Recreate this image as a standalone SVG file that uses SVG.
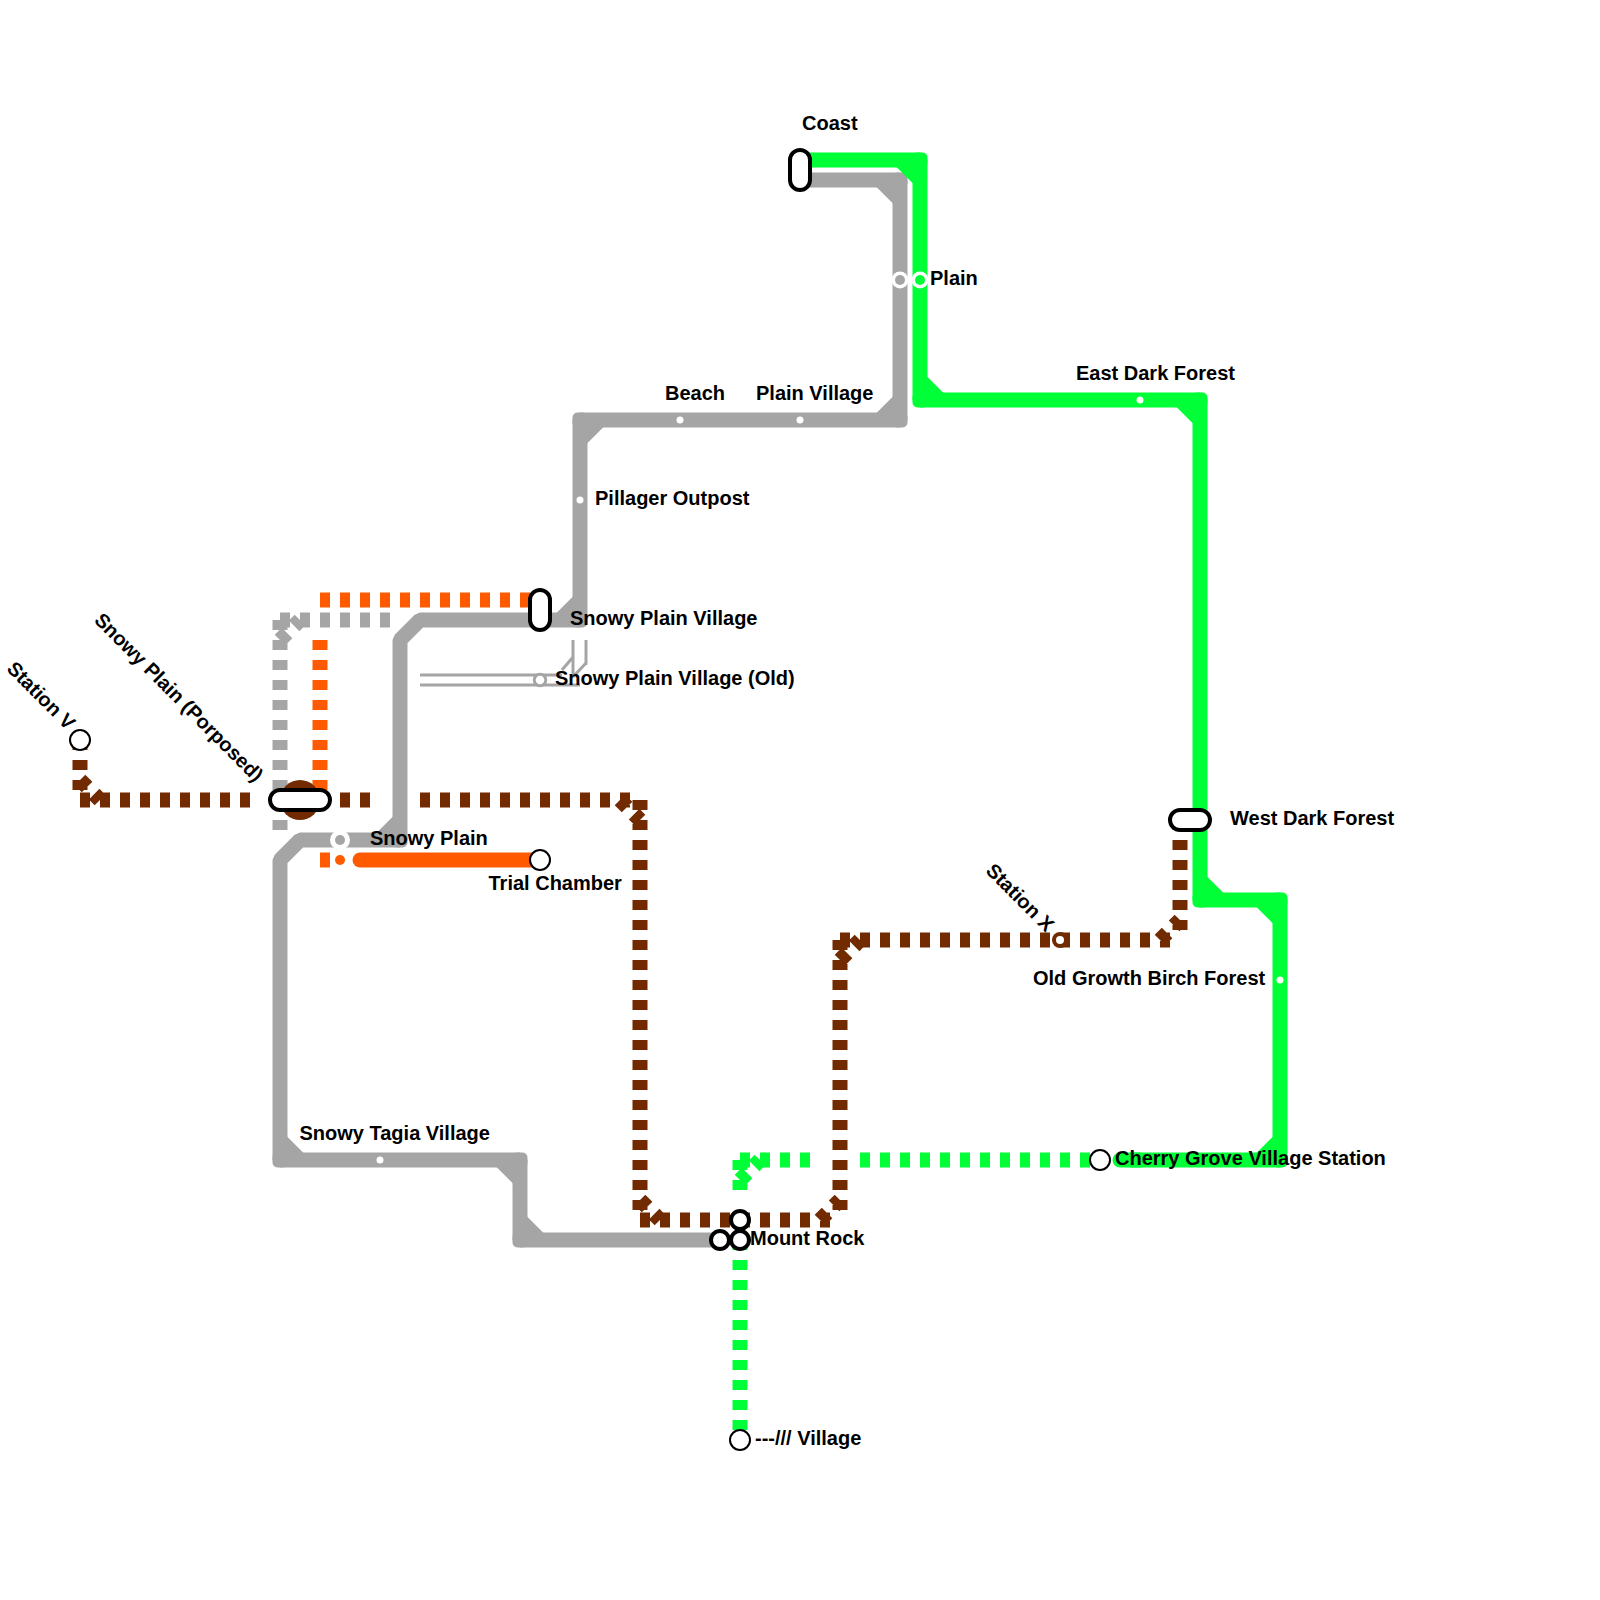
<svg xmlns="http://www.w3.org/2000/svg" width="1600" height="1600" viewBox="0 0 1600 1600">
<style>
text{font-family:"Liberation Sans",Arial,sans-serif;font-size:20px;font-weight:bold;fill:#000}
.s,.d{fill:none;stroke-width:15;stroke-linejoin:bevel}
.d{stroke-dasharray:10 10;stroke-linejoin:miter}
.g{stroke:#a5a5a5}.n{stroke:#00ff37}.o{stroke:#ff5a00}.b{stroke:#722b00}
.t{fill:none;stroke:#a5a5a5;stroke-width:3}
.p{fill:#fff;stroke:#000;stroke-width:4}
.c{fill:#fff;stroke:#000;stroke-width:2}
.m{fill:#fff;stroke:#000;stroke-width:4}
.w{fill:#fff}
.cg{fill:#a5a5a5}.cn{fill:#00ff37}
</style>
<defs><rect id="k" x="-7.5" y="-7.5" width="15" height="15" rx="5"/></defs>
<rect width="1600" height="1600" fill="#fff"/>
<g id="connectors">
<path class="t" d="M420 675H562M420 685H580M573 640V677M586 640V665M573 657L562 670M586 663L573 677"/>
<path class="s g" d="M800 180H900V420H580V620H420L400 640V840H300L280 860V1160H520V1240H720"/>
<path class="s g" d="M880 180L900 200M900 400L880 420M580 440L600 420M560 620L580 600M380 840L400 820M280 1140L300 1160M500 1160L520 1180M520 1220L540 1240"/>
<g class="cg"><use href="#k" x="900" y="180"/><use href="#k" x="900" y="420"/><use href="#k" x="580" y="420"/><use href="#k" x="580" y="620"/><use href="#k" x="400" y="840"/><use href="#k" x="280" y="1160"/><use href="#k" x="520" y="1160"/><use href="#k" x="520" y="1240"/></g>
<path class="d g" d="M280 620V840M280 620H400M280 640L300 620"/>
<path class="s n" d="M800 160H920V400H1200V900H1280V1160H1130"/>
<path class="s n" stroke-linecap="round" d="M1120 1160H1140"/>
<path class="s n" d="M900 160L920 180M920 380L940 400M1180 400L1200 420M1200 880L1220 900M1260 900L1280 920M1280 1140L1260 1160"/>
<g class="cn"><use href="#k" x="920" y="160"/><use href="#k" x="920" y="400"/><use href="#k" x="1200" y="400"/><use href="#k" x="1200" y="900"/><use href="#k" x="1280" y="900"/><use href="#k" x="1280" y="1160"/></g>
<path class="d n" d="M740 1160H810M860 1160H1100M740 1160V1200M740 1180L760 1160M740 1240V1440"/>
<path class="d o" d="M320 600H530M320 640V800M320 860H330"/>
<path class="s o" stroke-linecap="round" d="M360 860H540"/>
<path class="d b" d="M80 740V800M80 800H250M340 800H370M80 780L100 800M420 800H640M640 800V1220M640 1220H840M620 800L640 820M640 1200L660 1220M820 1220L840 1200M840 940V1220M840 940H1180M840 960L860 940M1160 940L1180 920M1180 820V940"/>
</g>
<g id="node-coast"><rect class="p" x="790" y="150" width="20" height="40" rx="10"/><text x="802" y="130">Coast</text></g>
<g id="node-plain"><circle class="w" cx="900" cy="280" r="8.5"/><circle cx="900" cy="280" r="5" fill="#a5a5a5"/><circle class="w" cx="920" cy="280" r="8.5"/><circle cx="920" cy="280" r="5" fill="#00ff37"/><text x="930" y="285">Plain</text></g>
<g id="node-east-dark-forest"><circle class="w" cx="1140" cy="400" r="3.5"/><text x="1076" y="380">East Dark Forest</text></g>
<g id="node-beach"><circle class="w" cx="680" cy="420" r="3.5"/><text x="665" y="400">Beach</text></g>
<g id="node-plain-village"><circle class="w" cx="800" cy="420" r="3.5"/><text x="756" y="400">Plain Village</text></g>
<g id="node-pillager-outpost"><circle class="w" cx="580" cy="500" r="3.5"/><text x="595" y="505">Pillager Outpost</text></g>
<g id="node-snowy-plain-village"><rect class="p" x="530" y="590" width="20" height="40" rx="10"/><text x="570" y="625">Snowy Plain Village</text></g>
<g id="node-snowy-plain-village-old"><circle cx="540" cy="680" r="5.8" fill="#fff" stroke="#a5a5a5" stroke-width="3"/><text x="555" y="685">Snowy Plain Village (Old)</text></g>
<g id="node-snowy-plain-porposed"><circle cx="300" cy="800" r="20" fill="#722b00"/><rect class="p" x="270" y="790" width="60" height="20" rx="10"/><text transform="translate(255 783) rotate(45)" text-anchor="end">Snowy Plain (Porposed)</text></g>
<g id="node-station-v"><circle class="c" cx="80" cy="740" r="10"/><text transform="translate(67 731) rotate(45)" text-anchor="end">Station V</text></g>
<g id="node-snowy-plain"><circle class="w" cx="340" cy="840" r="10"/><circle cx="340" cy="840" r="5" fill="#a5a5a5"/><circle class="w" cx="340" cy="860" r="9"/><circle cx="340" cy="860" r="5" fill="#ff5a00"/><text x="370" y="845">Snowy Plain</text></g>
<g id="node-trial-chamber"><circle class="c" cx="540" cy="860" r="10"/><text x="488.5" y="890">Trial Chamber</text></g>
<g id="node-snowy-tagia-village"><circle class="w" cx="380" cy="1160" r="3.5"/><text x="299.5" y="1140">Snowy Tagia Village</text></g>
<g id="node-mount-rock"><circle class="m" cx="740" cy="1220" r="9"/><circle class="m" cx="720" cy="1240" r="9"/><circle class="m" cx="740" cy="1240" r="9"/><text x="750" y="1245">Mount Rock</text></g>
<g id="node-village"><circle class="c" cx="740" cy="1440" r="10"/><text x="755" y="1445">---/// Village</text></g>
<g id="node-cherry-grove"><circle class="c" cx="1100" cy="1160" r="10"/><text x="1115" y="1165">Cherry Grove Village Station</text></g>
<g id="node-old-growth"><circle class="w" cx="1280" cy="980" r="3.5"/><text x="1033" y="985">Old Growth Birch Forest</text></g>
<g id="node-west-dark-forest"><rect class="p" x="1170" y="810" width="40" height="20" rx="10"/><text x="1230" y="825">West Dark Forest</text></g>
<g id="node-station-x"><circle cx="1060" cy="940" r="8" fill="#722b00"/><circle class="w" cx="1060" cy="940" r="4"/><text transform="translate(1046 933) rotate(45)" text-anchor="end">Station X</text></g>
</svg>
